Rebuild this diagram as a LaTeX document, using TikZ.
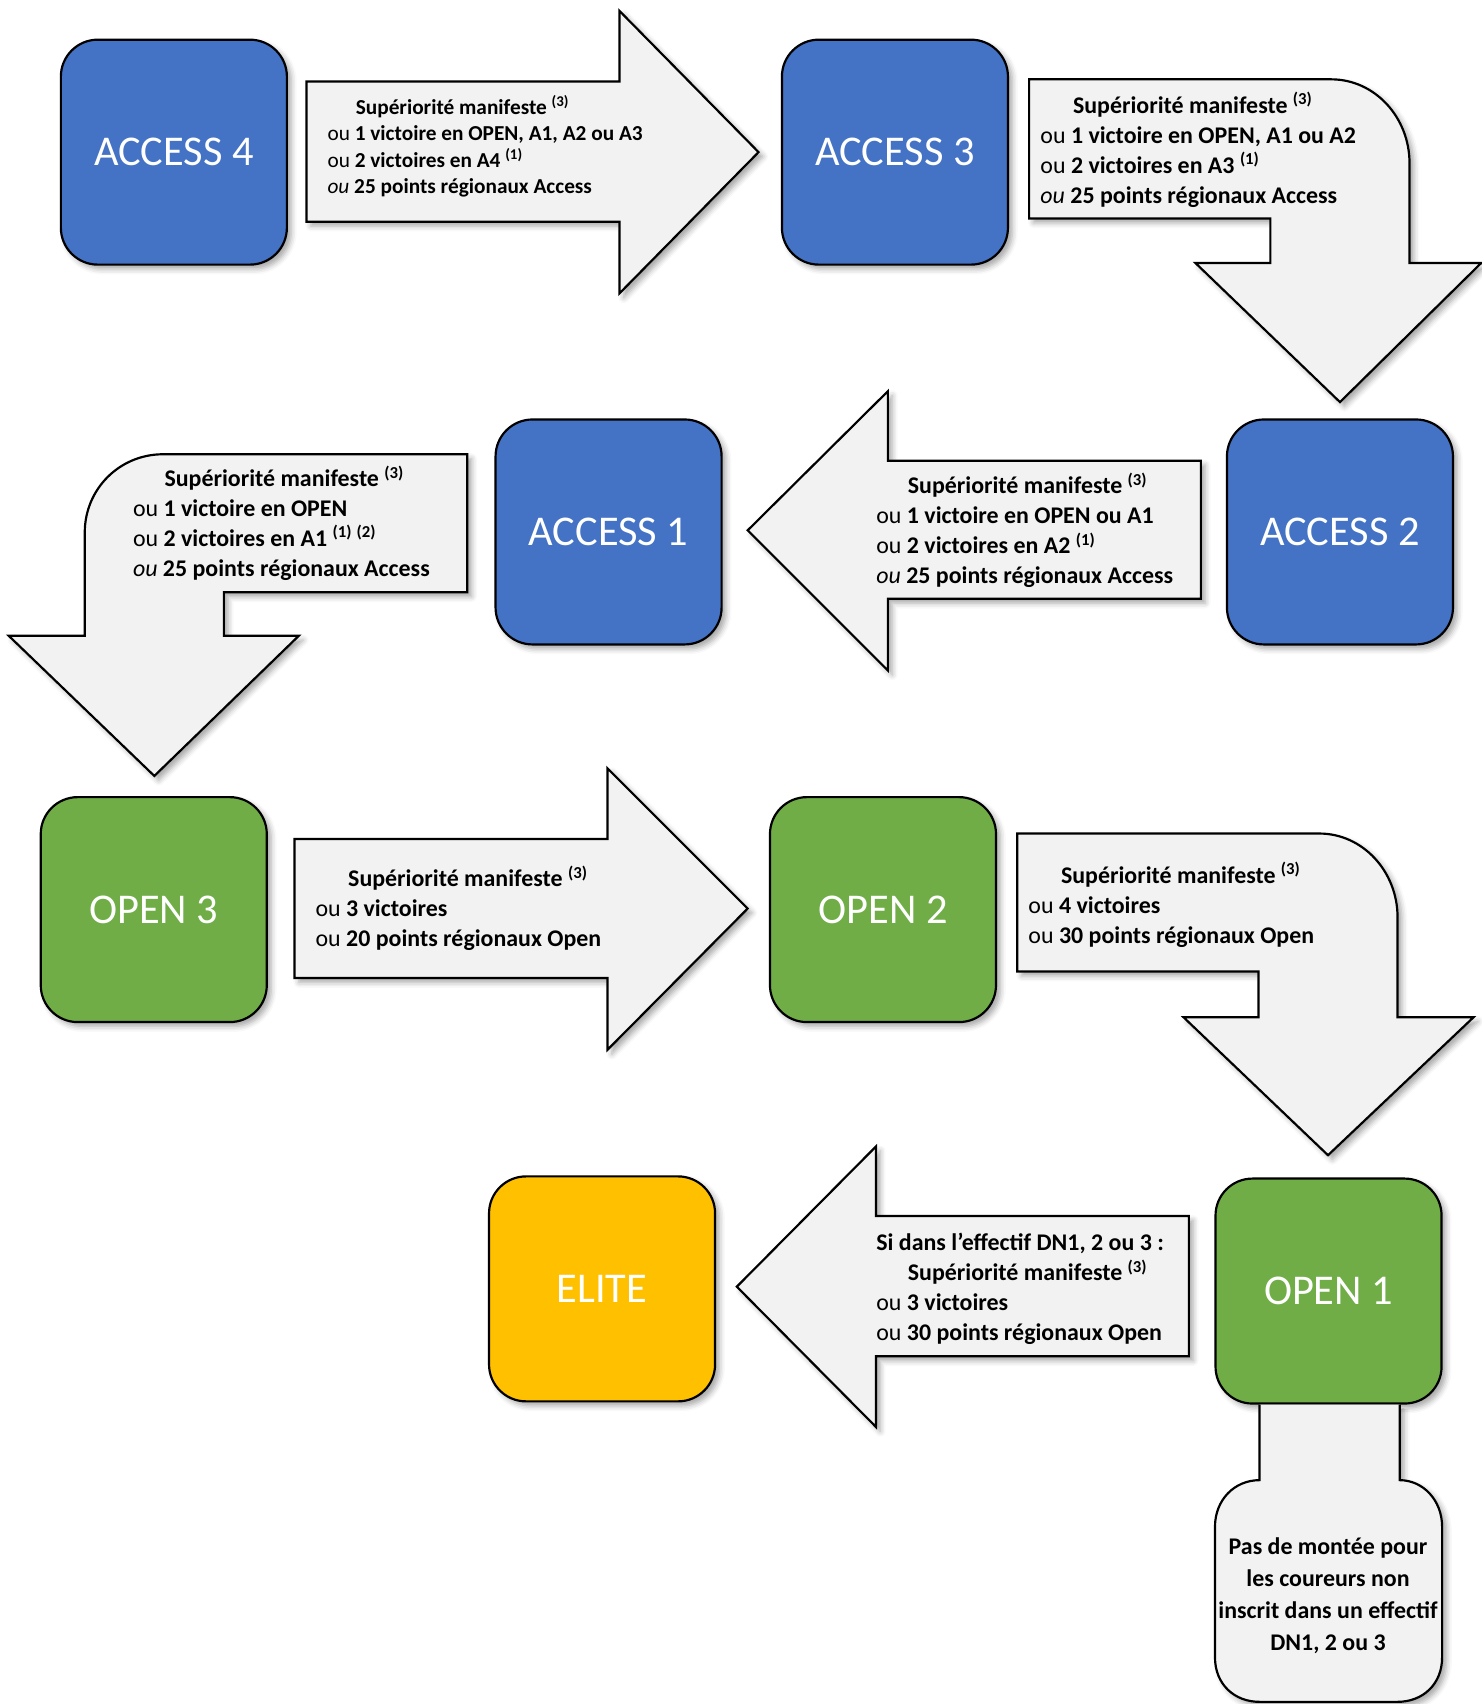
\documentclass[tikz,border=0pt]{standalone}
\usepackage{fontspec}
\setmainfont{Carlito}
\usetikzlibrary{shadows.blur}
\definecolor{accblue}{HTML}{4472C4}
\definecolor{opgreen}{HTML}{70AD47}
\definecolor{elgold}{HTML}{FFC000}
\definecolor{arrgray}{HTML}{F2F2F2}
\newcommand{\supn}[1]{\textsuperscript{(#1)}}
\begin{document}
\begin{tikzpicture}[x=0.5pt,y=-0.5pt,
  shd/.style={blur shadow={shadow xshift=2pt,shadow yshift=-2pt,shadow blur radius=2.5pt,shadow opacity=35}},
  levelbox/.style={draw=black,line width=1pt,rounded corners=17pt,minimum width=104pt,minimum height=103.5pt,inner sep=0pt,text=white,font=\fontsize{19.5}{23}\selectfont,shd},
  blockarrow/.style={draw=black,line width=1pt,fill=arrgray,line join=miter,shd},
  lbl/.style={anchor=base west,inner sep=0pt,text=black,font=\fontsize{11}{13.7}\selectfont},
  lblsmall/.style={lbl,font=\fontsize{9.8}{12}\selectfont}
]
\useasboundingbox (0,0) rectangle (1363,1568);

% ---------- block arrows ----------
\path[blockarrow] (282,75) -- (570,75) -- (570,10) -- (698,140) -- (570,270) -- (570,204) -- (282,204) -- cycle;
\path[blockarrow] (947,73) -- (1225,73) .. controls (1265,73) and (1297,108) .. (1297,150) -- (1297,242) -- (1363,242) -- (1233,370) -- (1100,242) -- (1169,242) -- (1169,201) -- (947,201) -- cycle;
\path[blockarrow] (1105,424) -- (817,424) -- (817,360) -- (688,488) -- (817,617) -- (817,551) -- (1105,551) -- cycle;
\path[blockarrow] (430,418) -- (150,418) .. controls (110,418) and (78,450) .. (78,490) -- (78,585) -- (8,585) -- (142,714) -- (275,585) -- (206,585) -- (206,545) -- (430,545) -- cycle;
\path[blockarrow] (271,772) -- (559,772) -- (559,707) -- (688,836) -- (559,966) -- (559,900) -- (271,900) -- cycle;
\path[blockarrow] (936,767) -- (1214,767) .. controls (1254,767) and (1286,802) .. (1286,844) -- (1286,936) -- (1356,936) -- (1222,1063) -- (1089,936) -- (1158,936) -- (1158,894) -- (936,894) -- cycle;
\path[blockarrow] (1094,1119) -- (806,1119) -- (806,1055) -- (678,1184) -- (806,1313) -- (806,1248) -- (1094,1248) -- cycle;

% ---------- level boxes ----------
\node[levelbox,fill=accblue] (a4) at (160,140) {ACCESS 4};
\node[levelbox,fill=accblue] (a3) at (823.5,140) {ACCESS 3};
\node[levelbox,fill=accblue] (a2) at (1233,489.5) {ACCESS 2};
\node[levelbox,fill=accblue] (a1) at (560,489.5) {ACCESS 1};
\node[levelbox,fill=opgreen] (o3) at (141.5,837) {OPEN 3};
\node[levelbox,fill=opgreen] (o2) at (812.5,837) {OPEN 2};
\node[levelbox,fill=opgreen] (o1) at (1222.5,1188) {OPEN 1};
\node[levelbox,fill=elgold] (el) at (554,1186) {ELITE};

% bottom note shape hanging from OPEN 1
\path[blockarrow] (1159,1292.5) -- (1159,1362) .. controls (1136,1362) and (1118,1380) .. (1118,1405) -- (1118,1525) .. controls (1118,1550) and (1136,1566) .. (1159,1566) -- (1286,1566) .. controls (1309,1566) and (1327,1550) .. (1327,1525) -- (1327,1405) .. controls (1327,1380) and (1309,1362) .. (1288,1362) -- (1288,1292.5);

% ---------- arrow texts ----------
\node[lblsmall] (t1) at (301,105.5) {\begin{tabular}[t]{@{}l@{}}
\hspace*{13pt}\textbf{Supériorité manifeste \supn{3}}\\
ou \textbf{1 victoire en OPEN, A1, A2 ou A3}\\
ou \textbf{2 victoires en A4 \supn{1}}\\
\textit{ou} \textbf{25 points régionaux Access}
\end{tabular}};

\node[lbl] (t2) at (957,104.5) {\begin{tabular}[t]{@{}l@{}}
\hspace*{15pt}\textbf{Supériorité manifeste \supn{3}}\\
ou \textbf{1 victoire en OPEN, A1 ou A2}\\
ou \textbf{2 victoires en A3 \supn{1}}\\
\textit{ou} \textbf{25 points régionaux Access}
\end{tabular}};

\node[lbl] (t3) at (806,454.5) {\begin{tabular}[t]{@{}l@{}}
\hspace*{14.5pt}\textbf{Supériorité manifeste \supn{3}}\\
ou \textbf{1 victoire en OPEN ou A1}\\
ou \textbf{2 victoires en A2 \supn{1}}\\
\textit{ou} \textbf{25 points régionaux Access}
\end{tabular}};

\node[lbl] (t4) at (122,448) {\begin{tabular}[t]{@{}l@{}}
\hspace*{14.5pt}\textbf{Supériorité manifeste \supn{3}}\\
ou \textbf{1 victoire en OPEN}\\
ou \textbf{2 victoires en A1 \supn{1}\,\supn{2}}\\
\textit{ou} \textbf{25 points régionaux Access}
\end{tabular}};

\node[lbl] (t5) at (290,816) {\begin{tabular}[t]{@{}l@{}}
\hspace*{15pt}\textbf{Supériorité manifeste \supn{3}}\\
ou \textbf{3 victoires}\\
ou \textbf{20 points régionaux Open}
\end{tabular}};

\node[lbl] (t6) at (946,813) {\begin{tabular}[t]{@{}l@{}}
\hspace*{15pt}\textbf{Supériorité manifeste \supn{3}}\\
ou \textbf{4 victoires}\\
ou \textbf{30 points régionaux Open}
\end{tabular}};

\node[lbl] (t7) at (806,1151) {\begin{tabular}[t]{@{}l@{}}
\textbf{Si dans l’effectif DN1, 2 ou 3 :}\\
\hspace*{14.5pt}\textbf{Supériorité manifeste \supn{3}}\\
ou \textbf{3 victoires}\\
ou \textbf{30 points régionaux Open}
\end{tabular}};

\node[anchor=base,inner sep=0pt,font=\fontsize{11}{14.8}\selectfont\bfseries] (nb) at (1222,1430) {\begin{tabular}[t]{@{}c@{}}
Pas de montée pour\\
les coureurs non\\
inscrit dans un effectif\\
DN1, 2 ou 3
\end{tabular}};
\end{tikzpicture}
\end{document}
